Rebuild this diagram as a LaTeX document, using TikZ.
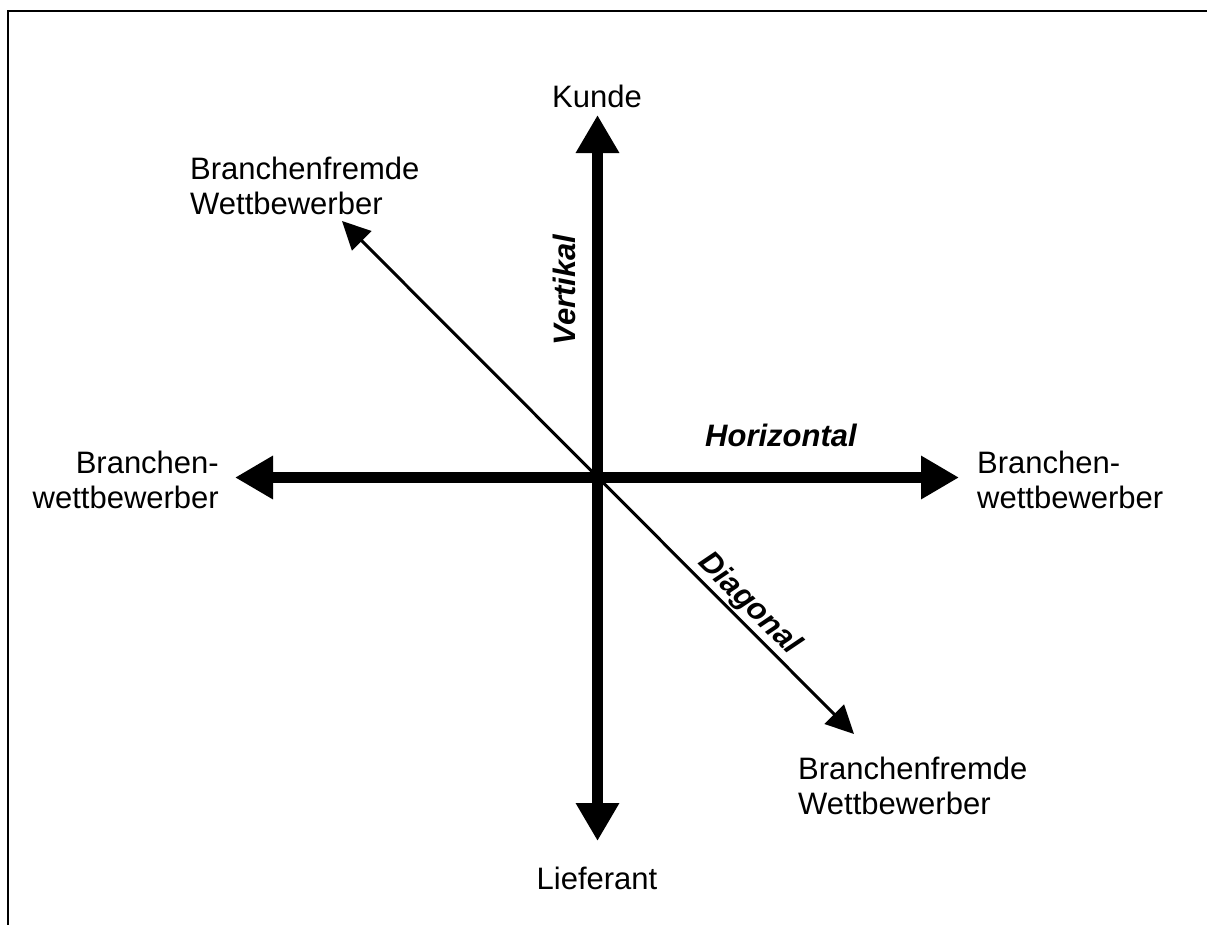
\documentclass[tikz,border=0pt]{standalone}
\usepackage{fontspec}
\setmainfont{Liberation Sans}
\usetikzlibrary{arrows.meta}
\begin{document}
\begin{tikzpicture}[x=1pt,y=-1pt,
  lbl/.style={inner sep=0pt,font=\fontsize{31}{35}\selectfont},
  axislbl/.style={inner sep=0pt,font=\fontsize{31}{35}\selectfont\bfseries\itshape},
  mainaxis/.style={line width=11pt,{Triangle[length=38pt,width=41pt]}-{Triangle[length=38pt,width=41pt]}},
  diagaxis/.style={line width=3pt,{Triangle[length=28pt,width=27pt]}-{Triangle[length=28pt,width=27pt]}}]
\useasboundingbox (0,0) rectangle (1207,924);
\fill[white] (0,0) rectangle (1207,924);
% frame
\draw[line width=2pt] (8,940) -- (8,11) -- (1220,11);
% axis end points
\coordinate (top) at (597.5,115);
\coordinate (bottom) at (597.5,841);
\coordinate (left) at (235,477.5);
\coordinate (right) at (959,477.5);
\coordinate (ul) at (342,221);
\coordinate (lr) at (854,734);
% axes
\draw[diagaxis] (ul) -- (lr);
\draw[mainaxis] (top) -- (bottom);
\draw[mainaxis] (left) -- (right);
% end labels
\node[lbl] (kunde) at (597,96) {Kunde};
\node[lbl] (lief) at (597,878) {Lieferant};
\node[lbl,anchor=west,align=left] (bfl) at (190,186) {Branchenfremde\\Wettbewerber};
\node[lbl,anchor=west,align=left] (bfr) at (798,786) {Branchenfremde\\Wettbewerber};
\node[lbl,anchor=east,align=right] (bwl) at (219,480) {Branchen-\\wettbewerber};
\node[lbl,anchor=west,align=left] (bwr) at (977,480) {Branchen-\\wettbewerber};
% axis names
\node[axislbl,rotate=90] (vert) at (564,290) {Vertikal};
\node[axislbl] (hor) at (781,435) {Horizontal};
\node[lbl,rotate=-45] (diag) at (749,604) {\bfseries\itshape Diagonal};
\end{tikzpicture}
\end{document}
